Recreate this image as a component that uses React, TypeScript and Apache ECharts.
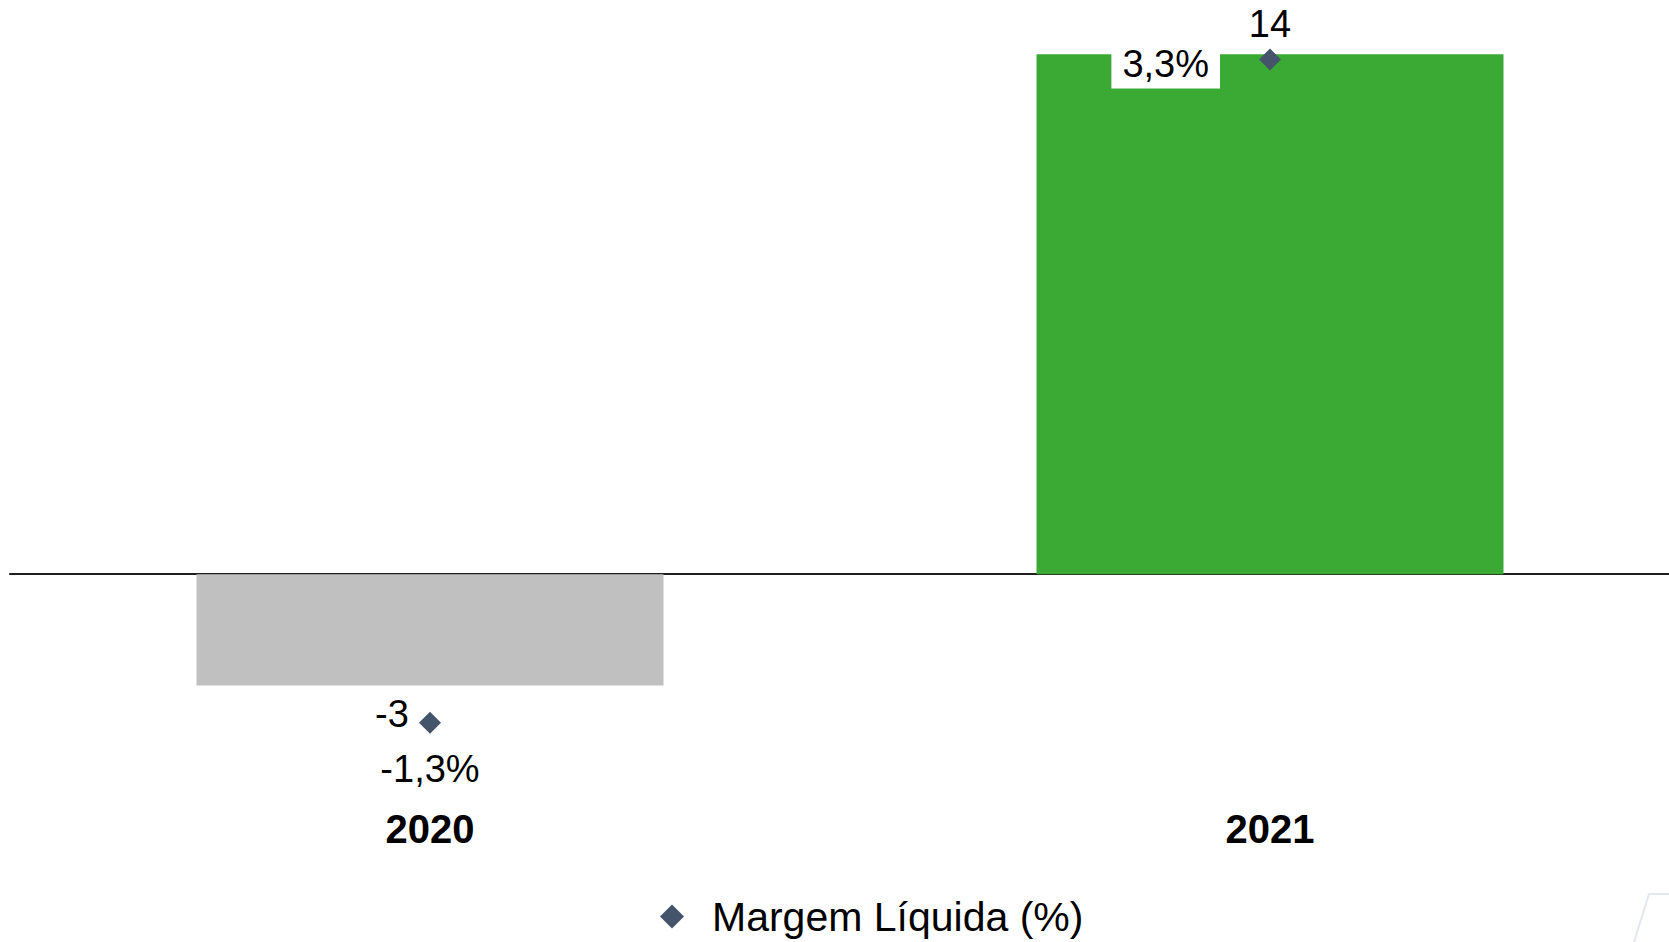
import React, { useEffect, useRef } from "react";
import * as echarts from "echarts";

const categories = ["2020", "2021"];
const resultValues = [-3, 14];
const marginValues = [-1.3, 3.3];
const barColors = ["#C0C0C0", "#3BAA35"];
const barSeriesName = "Resultado";
const lineSeriesName = "Margem Líquida (%)";

const FONT = "Arial, 'Liberation Sans', sans-serif";

function fmtPct(v: number): string {
  return v.toFixed(1).replace(".", ",") + "%";
}

export default function App() {
  const ref = useRef<HTMLDivElement>(null);

  useEffect(() => {
    document.body.style.margin = "0";
    const chart = echarts.init(ref.current!, null, { renderer: "svg" });
    chart.setOption({
      animation: false,
      backgroundColor: "#ffffff",
      grid: {
        left: 10,
        top: 17,
        width: 1680,
        height: 783,
        containLabel: false,
        outerBoundsMode: "none",
      },
      xAxis: [
        {
          type: "category",
          data: categories,
          axisLine: { onZero: true, onZeroAxisIndex: 0, lineStyle: { color: "#1f1f1f", width: 2 } },
          axisTick: { show: false },
          splitLine: { show: false },
          axisLabel: { show: false },
        },
        {
          type: "category",
          data: categories,
          position: "bottom",
          axisLine: { show: false, onZero: false },
          axisTick: { show: false },
          splitLine: { show: false },
          axisLabel: {
            margin: 9,
            fontSize: 40,
            fontWeight: "bold",
            color: "#000000",
            fontFamily: FONT,
          },
        },
      ],
      yAxis: [
        { type: "value", min: -6.08, max: 15, show: false, splitLine: { show: false } },
        { type: "value", min: -1.836, max: 3.594, show: false, splitLine: { show: false } },
      ],
      legend: {
        data: [lineSeriesName],
        left: 655,
        top: 891,
        icon: "diamond",
        itemWidth: 24,
        itemHeight: 24,
        textStyle: { fontSize: 41, color: "#000000", fontFamily: FONT, padding: [0, 0, 0, 23] },
      },
      graphic: [
        {
          type: "polyline",
          shape: { points: [[1634, 942], [1649, 894], [1669, 894]] },
          style: { stroke: "#E4E8EE", lineWidth: 2, fill: "none" },
        },
      ],
      series: [
        {
          type: "bar",
          name: barSeriesName,
          xAxisIndex: 0,
          yAxisIndex: 0,
          barWidth: 467,
          data: resultValues.map((v, i) => ({
            value: v,
            itemStyle: { color: barColors[i] },
            label:
              v < 0
                ? { position: "bottom", offset: [-38, 0], distance: 9 }
                : { position: "top", distance: 11 },
          })),
          label: {
            show: true,
            fontSize: 38,
            color: "#000000",
            fontFamily: FONT,
            formatter: (p: any) => String(p.value),
          },
        },
        {
          type: "line",
          name: lineSeriesName,
          xAxisIndex: 0,
          yAxisIndex: 1,
          symbol: "diamond",
          symbolSize: 22,
          lineStyle: { opacity: 0, width: 0 },
          itemStyle: { color: "#44546A" },
          data: marginValues.map((v, i) => ({
            value: v,
            label:
              i === 0
                ? { position: "bottom", distance: 16 }
                : {
                    position: "left",
                    distance: 39,
                    backgroundColor: "#ffffff",
                    padding: [4, 11, 6, 11],
                    offset: [0, 5],
                  },
          })),
          label: {
            show: true,
            fontSize: 38,
            color: "#000000",
            fontFamily: FONT,
            formatter: (p: any) => fmtPct(p.value),
          },
          z: 5,
        },
      ],
    });
    return () => chart.dispose();
  }, []);

  return <div ref={ref} style={{ width: 1669, height: 942, position: "absolute", left: 0, top: 0 }} />;
}
